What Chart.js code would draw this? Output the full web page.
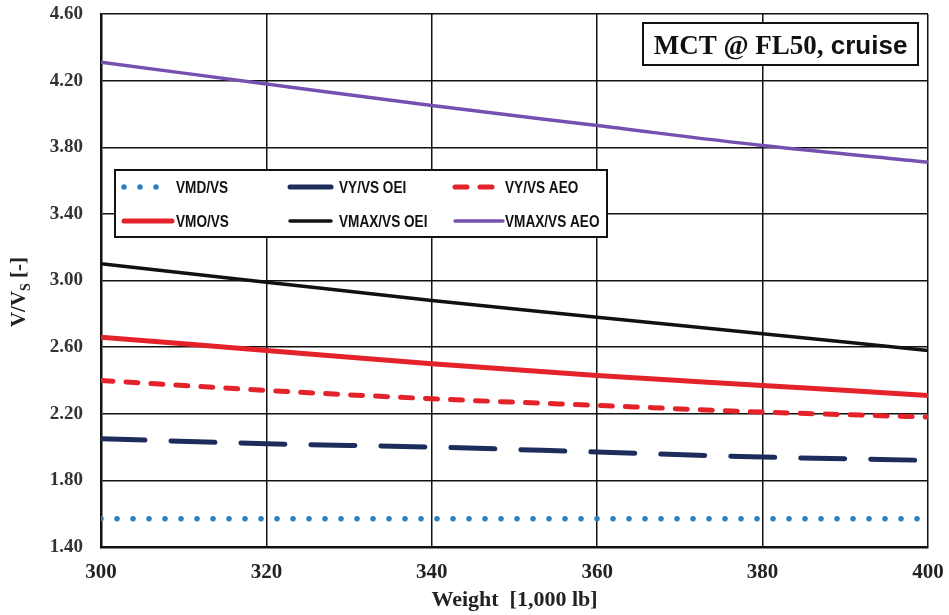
<!DOCTYPE html>
<html>
<head>
<meta charset="utf-8">
<script src="https://cdn.jsdelivr.net/npm/chart.js@4/dist/chart.umd.min.js"></script>
<style>
  html, body { margin: 0; padding: 0; background: #fff; }
  #wrap { width: 949px; height: 615px; position: relative; }
</style>
</head>
<body>
<div id="wrap"><canvas id="c"></canvas></div>
<script>
// Aircraft weight in thousands of pounds
const weights = [300, 320, 340, 360, 380, 400];

// Speed ratios V/Vs for each weight
const vmdVs      = [1.57, 1.57, 1.57, 1.57, 1.57, 1.57];
const vyVsOei    = [2.05, 2.02, 2.00, 1.97, 1.94, 1.92];
const vyVsAeo    = [2.40, 2.34, 2.29, 2.25, 2.21, 2.18];
const vmoVs      = [2.66, 2.58, 2.50, 2.43, 2.37, 2.31];
const vmaxVsOei  = [3.10, 2.99, 2.88, 2.78, 2.68, 2.58];
const vmaxVsAeo  = [4.31, 4.18, 4.05, 3.93, 3.81, 3.71];

const seriesNames = ['VMD/VS', 'VY/VS OEI', 'VY/VS AEO', 'VMO/VS', 'VMAX/VS OEI', 'VMAX/VS AEO'];
const yTicks = [1.40, 1.80, 2.20, 2.60, 3.00, 3.40, 3.80, 4.20, 4.60];
const xTicks = [300, 320, 340, 360, 380, 400];
const boxTitle = ['MCT @ FL50,', ' cruise'];
const xTitle = 'Weight  [1,000 lb]';

const pts = arr => arr.map((v, i) => ({ x: weights[i], y: v }));

const styles = [
  { color: '#2f7fba', width: 5.5, dash: [0, 16], cap: 'round' },
  { color: '#1c2d5c', width: 5,   dash: [44, 26], cap: 'round' },
  { color: '#e4222a', width: 5,   dash: [12, 13], cap: 'round' },
  { color: '#e4222a', width: 5,   dash: [],       cap: 'butt' },
  { color: '#111111', width: 3.5, dash: [],       cap: 'butt' },
  { color: '#7650b0', width: 3.5, dash: [],       cap: 'butt' }
];
const seriesData = [vmdVs, vyVsOei, vyVsAeo, vmoVs, vmaxVsOei, vmaxVsAeo];

const datasets = seriesData.map((d, i) => ({
  label: seriesNames[i],
  data: pts(d),
  borderColor: styles[i].color,
  borderWidth: styles[i].width,
  borderDash: styles[i].dash,
  borderCapStyle: styles[i].cap,
  pointRadius: 0,
  tension: 0.3,
  cubicInterpolationMode: 'monotone',
  fill: false
}));

const serif = '"Liberation Serif", "Times New Roman", serif';
const sans = '"Liberation Sans", Arial, sans-serif';

// Legend box, title box and axis titles drawn on top of the plot
const decorations = {
  id: 'decorations',
  afterDatasetsDraw(chart) {
    const ctx = chart.ctx;
    const area = chart.chartArea;
    ctx.save();

    // legend
    const lx = 115, ly = 170, lw = 492, lh = 67;
    ctx.fillStyle = '#fff';
    ctx.fillRect(lx, ly, lw, lh);
    ctx.lineWidth = 2;
    ctx.strokeStyle = '#111';
    ctx.setLineDash([]);
    ctx.strokeRect(lx, ly, lw, lh);
    const cols = [{ s: 124, e: 172, t: 176 }, { s: 290, e: 331, t: 339 }, { s: 455, e: 503, t: 505 }];
    const rows = [187, 221];
    ctx.font = 'bold 17px ' + sans;
    ctx.textBaseline = 'middle';
    ctx.textAlign = 'left';
    chart.data.datasets.forEach((ds, i) => {
      const c = cols[i % 3], r = rows[Math.floor(i / 3)];
      ctx.beginPath();
      ctx.strokeStyle = ds.borderColor;
      ctx.lineWidth = ds.borderWidth;
      ctx.lineCap = 'round';
      ctx.setLineDash(ds.borderDash || []);
      ctx.moveTo(c.s, r);
      ctx.lineTo(c.e, r);
      ctx.stroke();
      ctx.setLineDash([]);
      ctx.fillStyle = '#111';
      // condensed lettering
      ctx.save();
      ctx.translate(c.t, r + 1);
      ctx.scale(0.8, 1);
      ctx.fillText(ds.label, 0, 0);
      ctx.restore();
    });

    // title box
    const bx = 643, by = 23, bw = 275, bh = 42;
    ctx.fillStyle = '#fff';
    ctx.fillRect(bx, by, bw, bh);
    ctx.lineWidth = 2;
    ctx.strokeStyle = '#111';
    ctx.strokeRect(bx, by, bw, bh);
    ctx.fillStyle = '#111';
    ctx.textBaseline = 'alphabetic';
    ctx.font = 'bold 27px ' + serif;
    const w1 = ctx.measureText(boxTitle[0]).width;
    ctx.font = 'bold 26px ' + sans;
    const w2 = ctx.measureText(boxTitle[1]).width;
    let tx = bx + (bw - w1 - w2) / 2;
    ctx.font = 'bold 27px ' + serif;
    ctx.fillText(boxTitle[0], tx, by + 31);
    ctx.font = 'bold 26px ' + sans;
    ctx.fillText(boxTitle[1], tx + w1, by + 31);

    // x axis title
    ctx.font = 'bold 22px ' + serif;
    ctx.textAlign = 'center';
    ctx.fillStyle = '#222';
    ctx.fillText(xTitle, (area.left + area.right) / 2, 606);

    // y axis title: V/Vs [-] with subscript
    ctx.translate(20, 292);
    ctx.rotate(-Math.PI / 2);
    ctx.textAlign = 'left';
    ctx.textBaseline = 'middle';
    const big = 'bold 21px ' + serif, small = 'bold 14px ' + serif;
    ctx.font = big; const a = ctx.measureText('V/V').width;
    ctx.font = small; const b = ctx.measureText('S').width;
    ctx.font = big; const c2 = ctx.measureText(' [-]').width;
    let sx = -(a + b + c2) / 2;
    ctx.font = big; ctx.fillText('V/V', sx, 0);
    ctx.font = small; ctx.fillText('S', sx + a, 6);
    ctx.font = big; ctx.fillText(' [-]', sx + a + b, 0);

    ctx.restore();
  }
};

// keep label overhang from shifting the plot frame
const noPad = s => { s.paddingTop = 0; s.paddingBottom = 0; s.paddingLeft = 0; s.paddingRight = 0; };

new Chart(document.getElementById('c'), {
  type: 'line',
  data: { datasets },
  options: {
    responsive: true,
    maintainAspectRatio: false,
    animation: false,
    layout: { padding: { left: 0, right: 21, top: 14, bottom: 0 } },
    plugins: { legend: { display: false }, tooltip: { enabled: false } },
    scales: {
      x: {
        type: 'linear',
        min: 300, max: 400,
        afterBuildTicks: s => { s.ticks = xTicks.map(v => ({ value: v })); },
        afterFit: s => { s.height = 68; noPad(s); },
        grid: { color: '#111', lineWidth: 1.5, drawTicks: false },
        border: { color: '#111', width: 2.5 },
        ticks: {
          padding: 13,
          color: '#222',
          font: { family: serif, size: 21, weight: 'bold' },
          callback: v => String(v)
        }
      },
      y: {
        min: 1.4, max: 4.6,
        afterBuildTicks: s => { s.ticks = yTicks.map(v => ({ value: v })); },
        afterFit: s => { s.width = 101; noPad(s); },
        grid: { color: '#111', lineWidth: 1.5, drawTicks: false },
        border: { color: '#111', width: 2.5 },
        ticks: {
          padding: 18,
          color: '#333',
          font: { family: serif, size: 19, weight: 'bold' },
          callback: v => Number(v).toFixed(2)
        }
      }
    }
  },
  plugins: [decorations]
});
</script>
</body>
</html>
